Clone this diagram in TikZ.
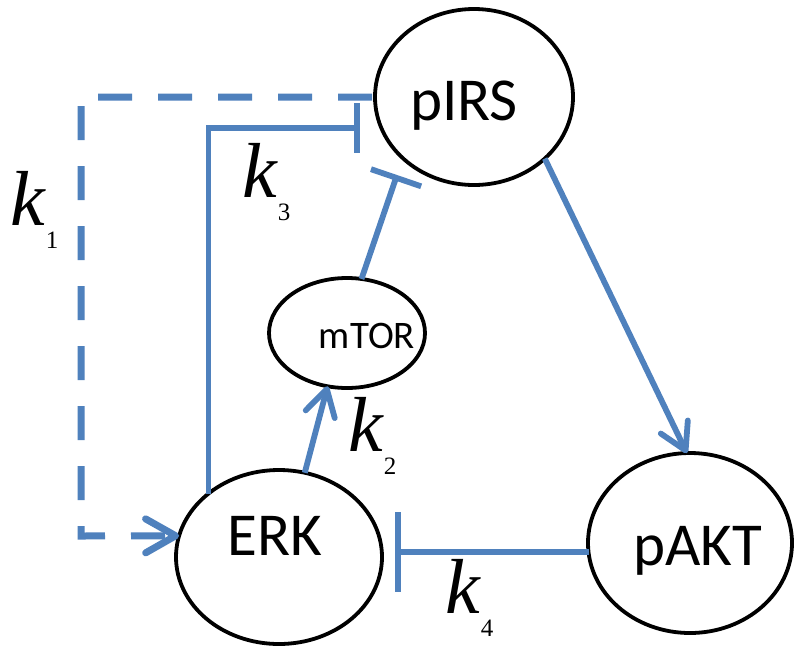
\documentclass[tikz,border=0pt]{standalone}
\usepackage{fontspec}
\setmainfont{Carlito}
\newfontfamily\tnr{Liberation Serif}
\usetikzlibrary{arrows.meta,shapes.geometric}
\definecolor{lblue}{RGB}{79,129,189}
\newcommand{\offtext}[3]{\makebox[0pt][c]{\smash{\raisebox{#2}{\hspace*{#1}\hspace*{#1}#3}}}}
\newcommand{\klab}[1]{{\tnr\fontsize{78}{80}\selectfont\itshape k}\kern1pt\raisebox{-23pt}{\tnr\fontsize{25}{26}\selectfont #1}}
\begin{document}
\begin{tikzpicture}[x=1pt,y=-1pt,
  species/.style={ellipse, draw=black, line width=3.8pt, inner sep=0pt, outer sep=0pt},
  act/.style={draw=lblue, line width=5.8pt, -{Straight Barb[length=26pt,width=30pt,round]}},
  inhib/.style={draw=lblue, line width=5.8pt},
  klabel/.style={anchor=base west, inner sep=0pt}]
\useasboundingbox (0,0) rectangle (800,654);
\fill[white] (0,0) rectangle (800,654);

\node[species, minimum width=198pt, minimum height=176pt] (pIRS) at (474,97) {\fontsize{61}{61}\selectfont\offtext{-10pt}{-23pt}{pIRS}};
\node[species, minimum width=206pt, minimum height=174pt] (ERK) at (279,557) {\fontsize{61}{61}\selectfont\offtext{-4pt}{2pt}{ERK}};
\node[species, minimum width=204pt, minimum height=180pt] (pAKT) at (690,543) {\fontsize{61}{61}\selectfont\offtext{8pt}{-22pt}{pAKT}};
\node[species, minimum width=156pt, minimum height=110pt] (mTOR) at (347,333) {\fontsize{39}{39}\selectfont\offtext{20pt}{-15pt}{mTOR}};

\node[klabel] (k1) at (10,225) {\klab{1}};
\node[klabel] (k3) at (242,197) {\klab{3}};
\node[klabel] (k2) at (348,451) {\klab{2}};
\node[klabel] (k4) at (445,613) {\klab{4}};

\coordinate (k3bar) at (360,128);
\coordinate (t2) at (397,175);
\coordinate (k4bar) at (395,552);
\coordinate (dtl) at (81,97);
\coordinate (dbl) at (81,536);

\draw[inhib, -{Bar[width=50pt]}] (ERK.138) |- (k3bar);
\draw[inhib, -{Bar[width=53pt]}] (mTOR.75) -- (t2);
\draw[act] (ERK.73) -- (mTOR.250);
\draw[act] (pIRS.319) -- (pAKT.92);
\draw[inhib, -{Bar[width=80pt]}] (pAKT.185) -- (pAKT.185 -| k4bar);
\draw[draw=lblue, line width=7pt, dash pattern=on 34pt off 26pt, dash phase=57pt, -{Straight Barb[length=30pt,width=34pt,round]}] (pIRS.west) -- (dtl) -- (dbl) -- (ERK.168);
\end{tikzpicture}
\end{document}
